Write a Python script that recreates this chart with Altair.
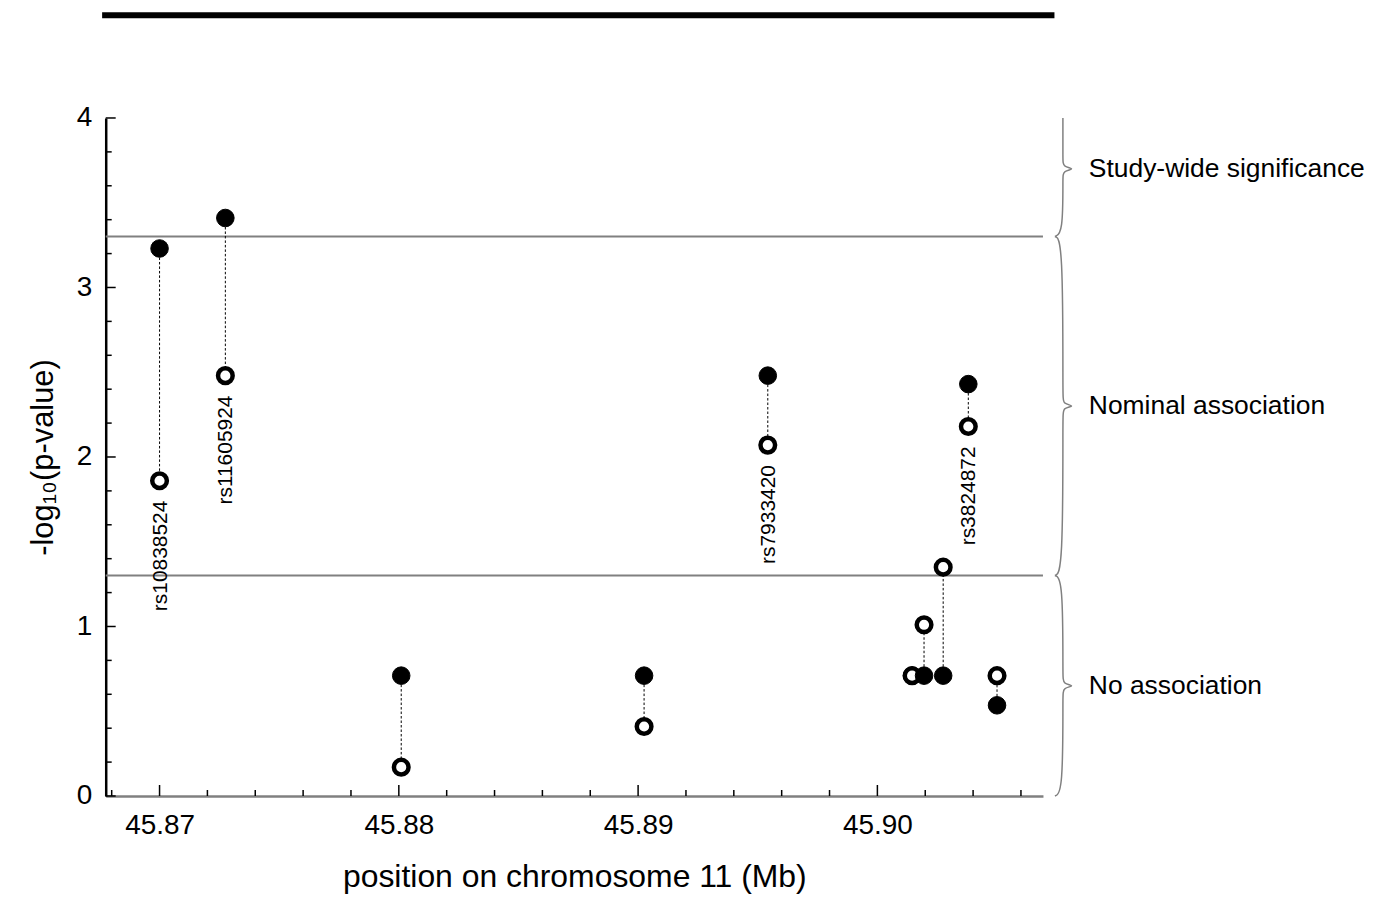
import altair as alt
import pandas as pd

# ---- data ----
snp_pos = [45.87000, 45.87275, 45.88010, 45.89025, 45.89542,
           45.90145, 45.90195, 45.90275, 45.90380, 45.90500]
filled_val = [3.23, 3.41, 0.71, 0.71, 2.48, 0.71, 0.71, 0.71, 2.43, 0.535]
open_val = [1.86, 2.48, 0.17, 0.41, 2.07, 0.71, 1.01, 1.35, 2.18, 0.71]
snp_names = ["rs10838524", "rs11605924", "", "", "rs7933420",
             "", "", "", "rs3824872", ""]

thresholds = [3.301, 1.301]
band_names = ["Study-wide significance", "Nominal association", "No association"]
band_top = [4.0, 3.301, 1.301]
band_bot = [3.301, 1.301, 0.0]
band_tip = [3.70, 2.301, 0.65]

gene_start = [45.8676]
gene_end = [45.9074]

x_major = [45.87, 45.88, 45.89, 45.90]
x_minor = [45.868, 45.872, 45.874, 45.876, 45.878, 45.882, 45.884, 45.886,
           45.888, 45.892, 45.894, 45.896, 45.898, 45.902, 45.904, 45.906]
y_major = [0, 1, 2, 3, 4]
y_minor = [0.2, 0.4, 0.6, 0.8, 1.2, 1.4, 1.6, 1.8, 2.2, 2.4, 2.6, 2.8,
           3.2, 3.4, 3.6, 3.8]

X_DOMAIN = [45.86775, 45.90692]
W, H = 940, 680
FONT = "Liberation Sans"

# ---- tables ----
pts_rows = []
for i, (p, f, o) in enumerate(zip(snp_pos, filled_val, open_val)):
    pts_rows.append({"pos": p, "val": f, "kind": "filled", "ord": 2 * i})
    pts_rows.append({"pos": p, "val": o, "kind": "open", "ord": 2 * i + 1})
pts = pd.DataFrame(pts_rows)

snp = pd.DataFrame({"pos": snp_pos, "filled": filled_val, "open": open_val,
                    "name": snp_names})
lab = snp[snp["name"] != ""]

# brace paths: x in pixels (relative to plot), y in data units
d = 0.05
BX, HX, TX = 960, 952, 973
brace_rows = []
for g, (top, bot, tip) in enumerate(zip(band_top, band_bot, band_tip)):
    seq = []
    if g == 0:
        seq.append((BX, top))
    else:
        seq += [(HX, top), (BX, top - 0.02)]
    seq += [(BX, tip + d), (BX, tip + 0.012), (TX, tip), (BX, tip - 0.012),
            (BX, tip - d)]
    seq += [(BX, bot + 0.02), (HX, bot)]
    for k, (px, yv) in enumerate(seq):
        brace_rows.append({"g": g, "k": k, "px": px, "y": yv})
braces = pd.DataFrame(brace_rows)

bands = pd.DataFrame({"name": band_names, "tip": band_tip})

xs = alt.Scale(domain=X_DOMAIN, nice=False, zero=False)
ys = alt.Scale(domain=[0, 4], nice=False, zero=True)

x_axis = alt.Axis(values=x_major, format=".2f", ticks=False, grid=False,
                  domainColor="#808080", domainWidth=2.5,
                  labelFontSize=28, labelFont=FONT, labelColor="black",
                  labelPadding=16,
                  title="position on chromosome 11 (Mb)", titleFontSize=32,
                  titleFont=FONT, titleFontWeight="normal", titleColor="black",
                  titlePadding=22)
y_axis = alt.Axis(values=y_major, format="d", ticks=False, grid=False,
                  domainColor="black", domainWidth=2.5,
                  labelFontSize=28, labelFont=FONT, labelColor="black",
                  labelPadding=14,
                  title="-log₁₀(p-value)", titleFontSize=31, titleFont=FONT,
                  titleFontWeight="normal", titleColor="black",
                  titlePadding=17)

base_x = alt.X("pos:Q", scale=xs, axis=x_axis)

thr = alt.Chart(pd.DataFrame({"t": thresholds})).mark_rule(
    color="#808080", strokeWidth=2
).encode(y=alt.Y("t:Q", scale=ys, axis=y_axis))

conn = alt.Chart(snp).mark_rule(
    color="black", strokeWidth=1, strokeDash=[2.5, 2]
).encode(x=base_x, y=alt.Y("filled:Q", scale=ys), y2="open:Q")

points = alt.Chart(pts).mark_point(filled=False, shape="circle", opacity=1).encode(
    x="pos:Q",
    y=alt.Y("val:Q", scale=ys),
    fill=alt.Fill("kind:N", scale=alt.Scale(domain=["filled", "open"],
                                            range=["black", "white"]), legend=None),
    size=alt.Size("kind:N", scale=alt.Scale(domain=["filled", "open"],
                                            range=[310, 215]), legend=None),
    strokeWidth=alt.StrokeWidth("kind:N", scale=alt.Scale(domain=["filled", "open"],
                                                          range=[1, 4.5]), legend=None),
    stroke=alt.value("black"),
    order=alt.Order("ord:Q"),
)

labels = alt.Chart(lab).mark_text(
    angle=270, align="right", baseline="middle", dx=-20, dy=1,
    fontSize=21, font=FONT, color="black"
).encode(x="pos:Q", y=alt.Y("open:Q", scale=ys), text="name:N")

xt_major = alt.Chart(pd.DataFrame({"v": x_major})).mark_rule(
    color="black", strokeWidth=1.5
).encode(x=alt.X("v:Q", scale=xs), y=alt.value(H), y2=alt.value(H - 11))
xt_minor = alt.Chart(pd.DataFrame({"v": x_minor})).mark_rule(
    color="black", strokeWidth=1.5
).encode(x=alt.X("v:Q", scale=xs), y=alt.value(H), y2=alt.value(H - 6))
yt_major = alt.Chart(pd.DataFrame({"v": y_major})).mark_rule(
    color="black", strokeWidth=1.5
).encode(y=alt.Y("v:Q", scale=ys), x=alt.value(0), x2=alt.value(10))
yt_minor = alt.Chart(pd.DataFrame({"v": y_minor})).mark_rule(
    color="black", strokeWidth=1.5
).encode(y=alt.Y("v:Q", scale=ys), x=alt.value(0), x2=alt.value(6))

gene = alt.Chart(pd.DataFrame({"s": gene_start, "e": gene_end})).mark_rule(
    color="black", strokeWidth=6
).encode(x=alt.X("s:Q", scale=xs), x2="e:Q", y=alt.value(-103))

brace = alt.Chart(braces).mark_line(
    color="#808080", strokeWidth=1.5, interpolate="basis"
).encode(
    x=alt.X("px:Q", scale=None, axis=None),
    y=alt.Y("y:Q", scale=ys),
    detail="g:N",
    order="k:Q",
)

band_text = alt.Chart(bands).mark_text(
    align="left", baseline="middle", fontSize=26.5, font=FONT, color="black"
).encode(x=alt.value(986), y=alt.Y("tip:Q", scale=ys), text="name:N")

chart = alt.layer(
    thr, conn, points, labels, xt_major, xt_minor, yt_major, yt_minor,
    gene, brace, band_text
).properties(
    width=W, height=H,
    autosize=alt.AutoSizeParams(type="none"),
    padding={"left": 98, "top": 109, "right": 330, "bottom": 100},
    background="white",
).configure_view(stroke=None)

chart.save("out.html", embed_options={"renderer": "svg", "actions": False})
